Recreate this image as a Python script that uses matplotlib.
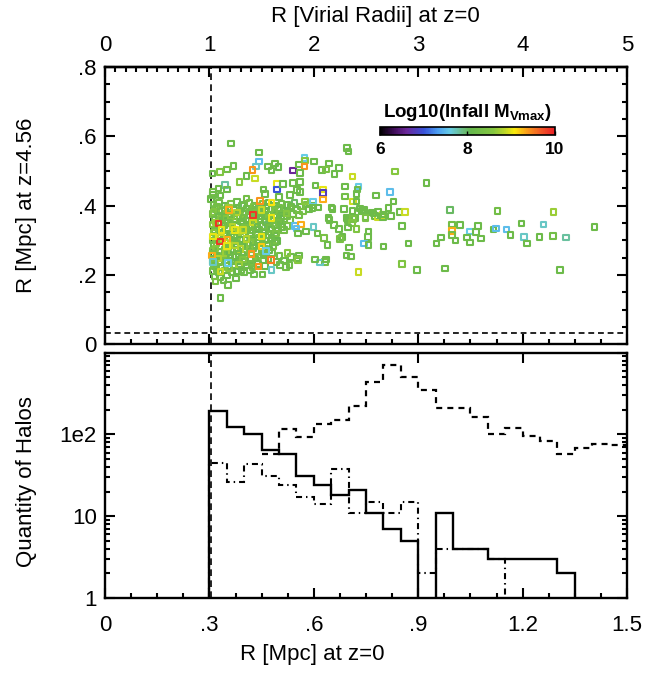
import numpy as np
import matplotlib
matplotlib.use("Agg")
import matplotlib.pyplot as plt
from matplotlib.colors import LinearSegmentedColormap, Normalize
from matplotlib.cm import ScalarMappable
from matplotlib.ticker import MultipleLocator, FixedLocator, NullFormatter

plt.rcParams['font.family'] = ['Liberation Sans', 'DejaVu Sans']
plt.rcParams['mathtext.fontset'] = 'custom'
plt.rcParams['mathtext.rm'] = 'Liberation Sans'
plt.rcParams['mathtext.bf'] = 'Liberation Sans:bold'

r_vir = 0.3       # Mpc, virial radius at z=0 (top axis scale)
r_vir_line = 0.306  # where the dashed marker line sits

# ---- halo scatter: radius now (Mpc), radius at z=4.56 (Mpc), log10 infall Mvmax
core_x = [
    0.312, 0.328, 0.345, 0.362, 0.380, 0.398, 0.415, 0.433, 0.452, 0.470, 0.488, 0.507, 0.525, 0.544, 0.562, 0.580, 0.598,
    0.318, 0.336, 0.353, 0.371, 0.389, 0.407, 0.424, 0.442, 0.460, 0.478, 0.497, 0.515, 0.533, 0.551, 0.569, 0.586,
    0.309, 0.326, 0.344, 0.362, 0.380, 0.397, 0.415, 0.433, 0.451, 0.469, 0.487, 0.505, 0.523, 0.540, 0.558,
    0.316, 0.334, 0.352, 0.370, 0.388, 0.406, 0.424, 0.442, 0.460, 0.478, 0.496, 0.514, 0.532,
    0.309, 0.343, 0.361, 0.379, 0.397, 0.415, 0.433, 0.451, 0.469, 0.487, 0.505, 0.523,
    0.316, 0.352, 0.388, 0.406, 0.424, 0.442, 0.460, 0.478, 0.496, 0.514,
    0.326, 0.344, 0.362, 0.380, 0.398, 0.416, 0.434, 0.452, 0.470, 0.488,
    0.309, 0.317, 0.370, 0.388, 0.424, 0.442, 0.460, 0.478, 0.496,
    0.313, 0.331, 0.362, 0.393, 0.411, 0.429, 0.466, 0.484,
    0.309, 0.327, 0.345, 0.363, 0.381, 0.399, 0.417, 0.435, 0.453, 0.471,
    0.322, 0.340, 0.358, 0.376, 0.394, 0.440, 0.458, 0.502, 0.534,
    0.311, 0.329, 0.347, 0.365, 0.383, 0.401, 0.419, 0.437, 0.493, 0.515,
    0.316, 0.334, 0.370, 0.388, 0.406, 0.424, 0.460, 0.520,
    0.309, 0.327, 0.345, 0.363, 0.381, 0.399,
    0.314, 0.332, 0.350, 0.318, 0.340,
    0.305, 0.310,
]
core_y = [
    0.404, 0.408, 0.401, 0.406, 0.410, 0.402, 0.407, 0.399, 0.405, 0.409, 0.400, 0.406, 0.402, 0.408, 0.398, 0.404, 0.401,
    0.391, 0.387, 0.393, 0.389, 0.386, 0.392, 0.388, 0.394, 0.385, 0.391, 0.389, 0.386, 0.392, 0.388, 0.383, 0.390,
    0.376, 0.372, 0.378, 0.374, 0.371, 0.377, 0.373, 0.379, 0.370, 0.375, 0.372, 0.377, 0.371, 0.376, 0.373,
    0.359, 0.363, 0.357, 0.361, 0.364, 0.356, 0.360, 0.362, 0.358, 0.363, 0.357, 0.361, 0.359,
    0.346, 0.343, 0.348, 0.342, 0.347, 0.344, 0.349, 0.341, 0.346, 0.343, 0.347, 0.342,
    0.328, 0.332, 0.327, 0.333, 0.329, 0.331, 0.326, 0.332, 0.328, 0.330,
    0.316, 0.313, 0.318, 0.312, 0.317, 0.314, 0.319, 0.313, 0.316, 0.312,
    0.300, 0.303, 0.298, 0.302, 0.297, 0.301, 0.299, 0.303, 0.298,
    0.286, 0.283, 0.288, 0.282, 0.287, 0.284, 0.286, 0.283,
    0.271, 0.268, 0.273, 0.269, 0.272, 0.267, 0.274, 0.270, 0.266, 0.272,
    0.256, 0.253, 0.258, 0.252, 0.257, 0.254, 0.258, 0.255, 0.252,
    0.241, 0.238, 0.243, 0.239, 0.242, 0.237, 0.243, 0.240, 0.238, 0.242,
    0.226, 0.223, 0.228, 0.224, 0.227, 0.222, 0.226, 0.223,
    0.211, 0.208, 0.213, 0.209, 0.212, 0.207,
    0.196, 0.193, 0.198, 0.181, 0.184,
    0.420, 0.440,
]
core_m = [
    8.2, 8.3, 8.1, 8.4, 8.2, 8.0, 8.3, 8.2, 8.5, 8.1, 8.2, 8.3, 8.2, 8.0, 8.2, 8.4, 8.2,
    8.3, 8.6, 8.2, 8.1, 8.4, 8.2, 8.3, 8.0, 8.2, 8.5, 8.2, 8.1, 8.3, 8.2, 8.4, 8.2,
    8.4, 8.2, 8.6, 8.1, 8.3, 8.2, 8.0, 8.4, 8.2, 8.3, 8.1, 8.2, 8.4, 8.2, 8.3,
    8.2, 8.5, 8.1, 8.3, 8.6, 8.2, 8.0, 8.3, 8.2, 8.4, 8.2, 8.1, 8.3,
    8.6, 8.2, 8.4, 8.1, 8.3, 8.2, 8.5, 8.2, 8.0, 8.3, 8.2, 8.4,
    8.3, 8.2, 8.5, 8.1, 8.3, 8.2, 8.4, 8.1, 8.2, 8.3,
    8.2, 8.4, 8.1, 8.6, 8.2, 8.3, 8.1, 8.2, 8.4, 8.2,
    8.3, 8.5, 8.2, 8.1, 8.4, 8.2, 8.3, 8.2, 8.1,
    8.2, 8.4, 8.6, 8.2, 8.1, 8.3, 8.2, 8.4,
    8.5, 8.2, 8.3, 8.1, 8.4, 8.2, 8.6, 8.2, 8.3, 8.1,
    8.2, 8.4, 8.1, 8.3, 8.2, 8.5, 8.2, 8.3, 8.2,
    8.3, 8.2, 8.4, 8.2, 8.1, 8.3, 8.2, 8.5, 8.2, 8.2,
    8.2, 8.4, 8.3, 8.1, 8.2, 8.4, 8.2, 8.3,
    8.3, 8.2, 8.5, 8.2, 8.1, 8.2,
    8.2, 8.3, 8.2, 8.4, 8.2,
    8.2, 8.3,
]

# second, offset layer of the dense core
fill_x = [
    0.322, 0.357, 0.393, 0.428, 0.464, 0.500, 0.535,
    0.312, 0.345, 0.380, 0.415, 0.451, 0.487, 0.522,
    0.327, 0.362, 0.398, 0.433, 0.470, 0.505,
    0.318, 0.354, 0.390, 0.426, 0.462, 0.498,
    0.330, 0.366, 0.402, 0.438, 0.474, 0.508,
    0.312, 0.348, 0.384, 0.420, 0.456, 0.492,
    0.334, 0.370, 0.406, 0.442, 0.478,
    0.320, 0.346, 0.380, 0.416, 0.452, 0.488,
    0.317, 0.353, 0.389, 0.425, 0.461,
    0.311, 0.347, 0.383, 0.419, 0.455, 0.480,
    0.325, 0.361, 0.397, 0.433, 0.470,
    0.313, 0.349, 0.385, 0.421, 0.440,
    0.320, 0.356, 0.392,
]
fill_y = [
    0.397, 0.395, 0.399, 0.396, 0.398, 0.394, 0.397,
    0.382, 0.384, 0.380, 0.383, 0.381, 0.384, 0.380,
    0.367, 0.369, 0.365, 0.368, 0.366, 0.369,
    0.352, 0.350, 0.354, 0.351, 0.353, 0.350,
    0.337, 0.339, 0.335, 0.338, 0.336, 0.339,
    0.322, 0.320, 0.324, 0.321, 0.323, 0.320,
    0.307, 0.309, 0.305, 0.308, 0.306,
    0.292, 0.294, 0.290, 0.293, 0.291, 0.294,
    0.277, 0.279, 0.275, 0.278, 0.276,
    0.262, 0.264, 0.260, 0.263, 0.261, 0.264,
    0.247, 0.249, 0.245, 0.248, 0.246,
    0.232, 0.234, 0.230, 0.233, 0.231,
    0.217, 0.219, 0.215,
]
fill_m = [
    8.3, 8.7, 8.2, 8.4, 8.1, 8.3, 8.2,
    8.5, 8.2, 8.8, 8.3, 8.2, 8.4, 8.2,
    8.2, 8.6, 8.3, 8.2, 8.4, 8.2,
    8.7, 8.3, 8.2, 8.9, 8.2, 8.3,
    8.2, 8.8, 8.4, 8.2, 8.3, 8.2,
    8.6, 8.2, 8.7, 8.3, 8.2, 8.4,
    8.9, 8.2, 8.6, 8.3, 8.2,
    8.4, 8.8, 8.2, 8.5, 8.3, 8.2,
    8.6, 8.3, 8.8, 8.2, 8.4,
    8.3, 8.7, 8.2, 8.4, 8.2, 8.3,
    8.8, 8.2, 8.5, 8.3, 8.2,
    8.4, 8.2, 8.7, 8.3, 8.2,
    8.3, 8.6, 8.2,
]

inner_x = [
    0.362, 0.443, 0.443, 0.369, 0.350, 0.330, 0.309, 0.434, 0.424, 0.407, 0.431, 0.386,
    0.469, 0.489, 0.479, 0.498, 0.541, 0.558, 0.345, 0.326, 0.350, 0.311, 0.332, 0.495,
    0.495, 0.512, 0.541, 0.551, 0.455, 0.460, 0.407, 0.500, 0.531,
    0.376, 0.354, 0.332, 0.417, 0.428, 0.453, 0.503, 0.530, 0.551,
    0.445, 0.357, 0.426, 0.450, 0.479, 0.522, 0.479, 0.326, 0.330, 0.311, 0.335, 0.352,
    0.350, 0.374, 0.397, 0.374, 0.407, 0.450, 0.450, 0.421, 0.477, 0.441, 0.307, 0.332,
    0.546, 0.463, 0.354, 0.311, 0.479, 0.525,
]
inner_y = [
    0.579, 0.553, 0.527, 0.515, 0.505, 0.497, 0.493, 0.513, 0.503, 0.486, 0.479, 0.469,
    0.513, 0.522, 0.501, 0.511, 0.501, 0.519, 0.460, 0.450, 0.447, 0.431, 0.429, 0.463,
    0.447, 0.463, 0.465, 0.445, 0.447, 0.434, 0.421, 0.425, 0.430,
    0.190, 0.171, 0.134, 0.213, 0.202, 0.202, 0.229, 0.229, 0.248,
    0.414, 0.388, 0.373, 0.388, 0.409, 0.378, 0.364, 0.349, 0.296, 0.311, 0.330, 0.301,
    0.284, 0.330, 0.330, 0.285, 0.304, 0.282, 0.311, 0.260, 0.243, 0.224, 0.256, 0.210,
    0.342, 0.270, 0.234, 0.238, 0.214, 0.263,
]
inner_m = [
    8.2, 8.2, 7.5, 8.2, 8.3, 8.5, 8.2, 7.7, 9.4, 8.2, 8.9, 8.6,
    8.2, 8.2, 8.2, 8.1, 6.6, 8.2, 7.8, 8.2, 8.2, 8.2, 8.2, 9.0,
    7.0, 8.2, 8.2, 8.2, 8.2, 8.2, 8.3, 8.2, 8.2,
    8.2, 8.2, 8.2, 8.2, 8.2, 8.2, 8.2, 8.2, 8.2,
    9.4, 9.3, 9.85, 8.9, 9.1, 8.6, 9.0, 9.85, 9.85, 9.0, 9.0, 9.3,
    9.0, 9.0, 8.9, 8.8, 8.8, 9.2, 9.0, 9.4, 9.5, 9.4, 9.3, 8.9,
    7.5, 7.6, 7.6, 7.7, 7.7, 8.6,
]

outer_x = [
    0.696, 0.700, 0.573, 0.574, 0.573, 0.601, 0.644, 0.623, 0.635, 0.672, 0.659, 0.711,
    0.560, 0.560, 0.560, 0.605, 0.627, 0.627, 0.627, 0.690, 0.728, 0.726, 0.723, 0.690,
    0.713, 0.723, 0.778, 0.819, 0.829, 0.597, 0.613, 0.596, 0.575, 0.651, 0.654, 0.687,
    0.711, 0.733, 0.738, 0.768, 0.776, 0.797, 0.815, 0.642, 0.694, 0.718, 0.748,
    0.563, 0.550, 0.555, 0.578, 0.599, 0.611, 0.630, 0.639, 0.645, 0.658, 0.673, 0.697,
    0.703, 0.712, 0.710, 0.699, 0.723, 0.749, 0.783, 0.799, 0.757, 0.756, 0.745, 0.757,
    0.800, 0.679, 0.683, 0.676, 0.701, 0.694, 0.707, 0.632, 0.618, 0.603, 0.635, 0.557,
    0.555, 0.728,
    0.833, 0.924, 0.846, 0.862, 0.822, 0.991, 1.128, 1.289, 0.854, 0.872, 0.853, 0.896,
    0.977, 0.953, 0.966, 0.997, 0.997, 0.997, 1.007, 1.020, 1.049, 1.049, 1.040, 1.066,
    1.072, 1.080, 1.116, 1.124, 1.154, 1.165, 1.197, 1.204, 1.212, 1.249, 1.260, 1.288,
    1.324, 1.308, 1.406, 0.744, 0.771, 0.785, 0.800,
]
outer_y = [
    0.566, 0.556, 0.537, 0.530, 0.513, 0.527, 0.522, 0.503, 0.505, 0.508, 0.491, 0.484,
    0.495, 0.469, 0.440, 0.458, 0.447, 0.436, 0.418, 0.455, 0.455, 0.447, 0.433, 0.426,
    0.412, 0.412, 0.429, 0.440, 0.412, 0.412, 0.395, 0.393, 0.412, 0.395, 0.390, 0.390,
    0.385, 0.392, 0.385, 0.380, 0.370, 0.373, 0.394, 0.364, 0.364, 0.364, 0.367,
    0.346, 0.334, 0.320, 0.325, 0.339, 0.320, 0.306, 0.287, 0.359, 0.344, 0.332, 0.359,
    0.362, 0.362, 0.350, 0.337, 0.333, 0.364, 0.368, 0.368, 0.325, 0.309, 0.291, 0.287,
    0.282, 0.308, 0.310, 0.304, 0.279, 0.256, 0.253, 0.238, 0.236, 0.245, 0.245, 0.256,
    0.244, 0.208,
    0.498, 0.466, 0.381, 0.381, 0.371, 0.388, 0.385, 0.382, 0.341, 0.291, 0.231, 0.214,
    0.219, 0.291, 0.308, 0.346, 0.327, 0.315, 0.299, 0.344, 0.325, 0.294, 0.308, 0.324,
    0.342, 0.305, 0.331, 0.334, 0.331, 0.316, 0.348, 0.309, 0.291, 0.310, 0.346, 0.312,
    0.308, 0.214, 0.339, 0.388, 0.378, 0.383, 0.375,
]
outer_m = [
    8.2, 8.2, 7.6, 8.6, 9.4, 8.2, 8.2, 8.2, 8.4, 8.2, 8.2, 8.9,
    8.2, 8.2, 8.2, 8.2, 9.0, 6.8, 9.3, 8.2, 7.6, 8.2, 8.2, 8.3,
    8.9, 8.2, 8.2, 7.5, 8.2, 7.6, 8.2, 8.2, 8.6, 8.2, 8.2, 8.2,
    8.2, 8.2, 8.2, 8.2, 8.2, 8.9, 8.2, 8.2, 8.2, 8.2, 8.2,
    9.3, 7.5, 8.2, 8.2, 7.7, 8.2, 8.4, 8.2, 8.2, 8.2, 8.2, 8.2,
    8.2, 8.4, 8.5, 8.2, 8.5, 8.4, 8.9, 8.2, 8.2, 8.2, 7.5, 8.2,
    8.2, 8.2, 8.2, 8.4, 8.2, 8.2, 8.2, 8.3, 7.7, 8.2, 8.2, 8.2,
    8.6, 8.9,
    8.6, 8.2, 8.2, 8.9, 8.2, 8.0, 8.3, 8.7, 8.2, 8.2, 8.5, 8.2,
    8.2, 8.2, 8.2, 8.3, 9.3, 8.3, 8.2, 8.2, 7.6, 8.2, 8.2, 8.2,
    8.2, 8.2, 8.2, 7.5, 7.5, 8.2, 8.2, 7.7, 8.2, 8.2, 7.7, 8.3,
    7.8, 8.2, 8.2, 8.2, 8.2, 8.2, 8.2,
]

# ---- histograms, 0.05 Mpc bins
bin_width = 0.05
solid_start = 0.30
solid_counts = [195, 124, 100, 64, 57, 31, 24, 18, 21, 11, 7, 5, 0, 11, 4, 4, 3, 3, 3, 3, 2]
dashed_start = 0.45
dashed_counts = [58, 115, 93, 135, 152, 225, 444, 708, 501, 352, 211, 211, 162, 102, 120,
                 95, 83, 58, 69, 77, 75]
dashdot_start = 0.30
dashdot_counts = [45, 26, 43, 31, 24, 17, 14, 38, 11, 15, 11, 15, 2, 4, 4, 4, 3]

mpc_ticks = [0, 0.3, 0.6, 0.9, 1.2, 1.5]
mpc_labels = ['0', '.3', '.6', '.9', '1.2', '1.5']
rz_ticks = [0, 0.2, 0.4, 0.6, 0.8]
rz_labels = ['0', '.2', '.4', '.6', '.8']
vir_ticks = [0, 1, 2, 3, 4, 5]
count_ticks = [1, 10, 100, 1000]
count_labels = ['1', '10', '1e2', '']
cbar_ticks = [6, 8, 10]

cmap = LinearSegmentedColormap.from_list('idl_rainbow', [
    (0.00, (0.0, 0.0, 0.0)),
    (0.08, (0.25, 0.05, 0.35)),
    (0.15, (0.42, 0.15, 0.60)),
    (0.25, (0.22, 0.32, 0.85)),
    (0.33, (0.30, 0.62, 0.95)),
    (0.40, (0.40, 0.80, 0.90)),
    (0.47, (0.42, 0.74, 0.52)),
    (0.52, (0.40, 0.72, 0.30)),
    (0.65, (0.52, 0.78, 0.25)),
    (0.72, (0.76, 0.85, 0.15)),
    (0.77, (0.98, 0.92, 0.05)),
    (0.84, (0.98, 0.62, 0.10)),
    (0.92, (0.95, 0.35, 0.15)),
    (1.00, (0.92, 0.12, 0.15)),
])
norm = Normalize(6, 10)

fig = plt.figure(figsize=(6.49, 6.75), dpi=100)
ax1 = fig.add_axes([0.1618, 0.4899, 0.8043, 0.4108])
ax2 = fig.add_axes([0.1618, 0.1141, 0.8043, 0.3634])

spine_w = 1.7
for ax in (ax1, ax2):
    for s in ax.spines.values():
        s.set_linewidth(spine_w)
    ax.set_xlim(0, 1.5)
    ax.xaxis.set_major_locator(FixedLocator(mpc_ticks))
    ax.xaxis.set_minor_locator(MultipleLocator(0.075))
    ax.tick_params(which='both', direction='in', width=1.5, right=True, labelsize=16)
    ax.tick_params(which='major', length=7)
    ax.tick_params(which='minor', length=3.6)
    ax.axvline(r_vir_line, color='black', lw=1.2, ls=(0, (4, 2.6)), zorder=1)

# top panel: hollow square markers coloured by infall mass
for xs, ys, ms in ((core_x, core_y, core_m), (fill_x, fill_y, fill_m),
                   (inner_x, inner_y, inner_m), (outer_x, outer_y, outer_m)):
    ax1.scatter(xs, ys, marker='s', s=16, facecolors='none',
                edgecolors=cmap(norm(np.asarray(ms))), linewidths=1.5, zorder=3)

ax1.axhline(0.032, color='black', lw=1.2, ls=(0, (3.5, 2.3)), zorder=1)
ax1.set_ylim(0, 0.8)
ax1.yaxis.set_major_locator(FixedLocator(rz_ticks))
ax1.yaxis.set_major_formatter(plt.FixedFormatter(rz_labels))
ax1.yaxis.set_minor_locator(MultipleLocator(0.05))
ax1.tick_params(top=False, labelbottom=False, pad=6)
ax1.tick_params(axis='y', pad=6)

top = ax1.secondary_xaxis('top', functions=(lambda x: x / r_vir, lambda v: v * r_vir))
top.set_xticks(vir_ticks)
top.set_xticklabels([str(v) for v in vir_ticks])
top.xaxis.set_minor_locator(MultipleLocator(0.1))
top.tick_params(which='both', direction='in', width=1.5, labelsize=16, pad=8)
top.tick_params(which='major', length=7)
top.tick_params(which='minor', length=3.6)
top.spines['top'].set_linewidth(spine_w)

# colourbar
cax = fig.add_axes([0.5855, 0.800, 0.2696, 0.0123])
cb = fig.colorbar(ScalarMappable(norm=norm, cmap=cmap), cax=cax, orientation='horizontal')
cb.set_ticks(cbar_ticks)
cb.ax.tick_params(direction='in', length=3, width=1, pad=5, labelsize=12.5)
for t in cb.ax.get_xticklabels():
    t.set_fontweight('bold')
cb.outline.set_linewidth(1.2)
cax.set_title(r'Log10(Infall M$_{\mathbf{Vmax}}$)', fontsize=13.5, fontweight='bold', pad=7)

# bottom panel: histograms
def edges_for(start, counts):
    return start + bin_width * np.arange(len(counts) + 1)

floor = 0.1
solid_vals = np.where(np.array(solid_counts) > 0, solid_counts, floor)
ax2.stairs(solid_vals, edges_for(solid_start, solid_counts), baseline=floor,
           color='black', lw=1.7)
ax2.stairs(dashed_counts, edges_for(dashed_start, dashed_counts), baseline=None,
           color='black', lw=1.6, ls=(0, (2.7, 2.3)))
ax2.stairs(dashdot_counts, edges_for(dashdot_start, dashdot_counts), baseline=floor,
           color='black', lw=1.5, ls=(0, (2.9, 1.9, 0.7, 1.9)))

ax2.set_yscale('log')
ax2.set_ylim(1, 1000)
ax2.yaxis.set_major_locator(FixedLocator(count_ticks))
ax2.yaxis.set_major_formatter(plt.FixedFormatter(count_labels))
ax2.yaxis.set_minor_locator(FixedLocator([m * d for d in (1, 10, 100) for m in range(2, 10)]))
ax2.yaxis.set_minor_formatter(NullFormatter())
ax2.xaxis.set_major_formatter(plt.FixedFormatter(mpc_labels))
ax2.tick_params(top=True, pad=6)
ax2.tick_params(axis='x', pad=12)

fig.text(0.0416, 0.696, 'R [Mpc] at z=4.56', rotation=90, ha='center', va='center', fontsize=16)
fig.text(0.0416, 0.286, 'Quantity of Halos', rotation=90, ha='center', va='center', fontsize=16)
fig.text(0.579, 0.975, 'R [Virial Radii] at z=0', ha='center', va='center', fontsize=16)
fig.text(0.481, 0.030, 'R [Mpc] at z=0', ha='center', va='center', fontsize=16)

fig.savefig('out.png', dpi=100)
